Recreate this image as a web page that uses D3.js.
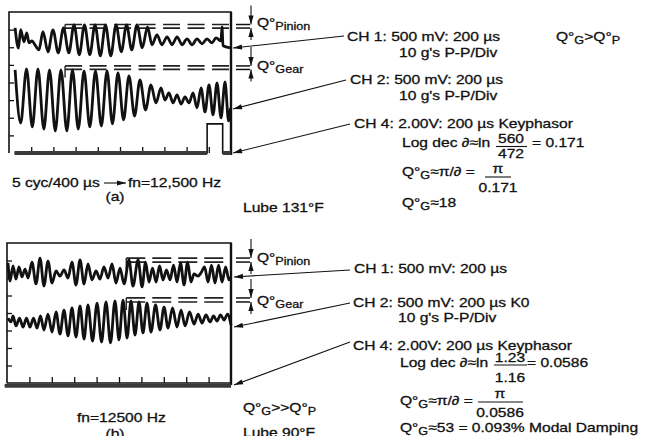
<!DOCTYPE html>
<html>
<head>
<meta charset="utf-8">
<script src="https://cdn.jsdelivr.net/npm/d3@7"></script>
<style>
  body { margin: 0; background: #fff; }
  svg text { font-family: "Liberation Sans", Arial, Helvetica, sans-serif; fill: #111; stroke: #111; stroke-width: 0.3px; }
</style>
</head>
<body>
<svg id="fig" width="651" height="436"></svg>
<script>
// Oscilloscope traces. t in µs (200 µs/div), v in screen divisions (0 = bottom).
// Only the turning points of each trace are stored; the curve is drawn through them.
const PINION_A = [
    [55, 7.1], [85, 5.95], [105, 7.0], [135, 6.31], [160, 6.82], [180, 6.25], [207, 6.36], [234, 6.14],
    [270, 5.85], [306, 6.88], [351, 5.74], [396, 6.99], [444, 5.68], [491, 7.1], [539, 5.68], [586, 7.27],
    [633, 5.57], [680, 7.27], [728, 5.57], [775, 7.27], [823, 5.51], [869, 7.27], [917, 5.51], [964, 7.27],
    [1012, 5.74], [1059, 7.27], [1106, 5.85], [1153, 7.27], [1201, 5.97], [1248, 7.16], [1288, 6.14],
    [1333, 6.7], [1378, 6.14], [1424, 6.59], [1469, 6.14], [1514, 6.59], [1559, 6.14], [1604, 6.48],
    [1649, 6.14], [1694, 6.48], [1739, 6.19], [1784, 6.48], [1829, 6.25], [1865, 6.53], [1910, 6.36],
    [1919, 7.16], [1928, 6.08], [1991, 5.97]
];
const GEAR_A = [
    [55, 4.72], [105, 1.7], [158, 4.77], [210, 1.48], [261, 4.77], [314, 1.36], [365, 4.72], [417, 1.25],
    [468, 4.72], [521, 1.25], [572, 4.72], [624, 1.36], [676, 4.66], [728, 1.48], [779, 4.66], [832, 1.53],
    [883, 4.66], [932, 1.65], [982, 4.55], [1032, 1.88], [1081, 4.38], [1131, 2.1], [1180, 4.15], [1230, 2.44],
    [1279, 3.86], [1324, 2.84], [1369, 3.69], [1405, 3.01], [1441, 3.41], [1478, 2.84], [1514, 3.3],
    [1550, 2.78], [1586, 3.18], [1622, 2.84], [1658, 3.41], [1694, 2.56], [1730, 3.69], [1766, 2.33],
    [1802, 3.86], [1838, 2.16], [1874, 3.98], [1910, 1.99], [1946, 4.03], [1978, 1.82], [1996, 2.56]
];
const KEY_A = [[50, 0], [1785, 0], [1785, 1.65], [1925, 1.65], [1925, 0], [2000, 0]];

const PINION_B = [
    [9, 6.86], [27, 5.83], [54, 6.69], [80, 5.94], [107, 6.63], [134, 6.06], [161, 6.51], [188, 6.0],
    [223, 6.91], [259, 5.66], [295, 7.14], [330, 5.54], [366, 6.97], [402, 5.71], [438, 6.4], [473, 6.11],
    [509, 6.46], [545, 6.0], [580, 6.91], [616, 5.6], [652, 7.03], [688, 5.66], [723, 6.8], [759, 5.89],
    [795, 6.4], [830, 5.94], [866, 6.63], [902, 6.0], [938, 6.8], [973, 5.71], [1009, 6.57], [1045, 5.66],
    [1089, 7.03], [1125, 5.54], [1170, 7.03], [1206, 5.49], [1237, 6.91], [1268, 5.77], [1299, 6.57],
    [1331, 5.77], [1362, 6.69], [1393, 5.89], [1424, 6.46], [1456, 5.89], [1487, 6.74], [1518, 5.77],
    [1549, 6.86], [1581, 5.6], [1612, 6.91], [1643, 5.77], [1670, 6.23], [1706, 6.11], [1732, 6.29],
    [1764, 6.63], [1795, 5.77], [1826, 6.74], [1857, 5.71], [1889, 6.74], [1920, 5.77], [1952, 6.63],
    [1982, 5.89], [2000, 6.06]
];
const GEAR_B = [
    [9, 3.71], [36, 3.49], [54, 3.83], [80, 3.26], [112, 3.71], [143, 3.2], [174, 3.71], [205, 3.2],
    [237, 3.71], [268, 3.14], [299, 3.83], [330, 3.03], [366, 3.94], [402, 2.91], [438, 4.06], [473, 2.8],
    [509, 4.17], [545, 2.69], [580, 4.29], [616, 2.63], [652, 4.4], [688, 2.51], [723, 4.46], [764, 2.4],
    [804, 4.57], [844, 2.34], [884, 4.63], [924, 2.29], [964, 4.69], [1000, 2.46], [1036, 4.74], [1072, 2.57],
    [1107, 4.69], [1143, 2.74], [1179, 4.63], [1214, 2.86], [1250, 4.57], [1286, 2.91], [1326, 4.46],
    [1366, 3.03], [1402, 4.34], [1438, 3.14], [1478, 4.29], [1518, 3.2], [1554, 4.17], [1590, 3.26],
    [1630, 4.06], [1670, 3.37], [1706, 3.94], [1741, 3.43], [1777, 3.89], [1813, 3.49], [1844, 3.83],
    [1875, 3.54], [1906, 3.89], [1938, 3.6], [1969, 3.94], [2000, 3.31]
];
const KEY_B = [[-20, -0.15], [2000, -0.15]];

// Cursor levels (divisions) and the time where the dashed cursors begin.
const CURSOR_A = { start: 505, pinion: [7.29, 7.09], gear: [4.94, 4.74] };
const CURSOR_B = { start: 1065, pinion: [7.14, 6.91], gear: [4.86, 4.63] };

const TIME_TICKS = [200, 400, 600, 800, 1000, 1200, 1400, 1600, 1800];
const DIV_TICKS = [1, 2, 3, 4, 5, 6, 7];

const SX = 1.2;   // the scan is stretched sideways
const FS = 13;
const SUB = 10.5;

const svg = d3.select('#fig');

// ---------- helpers ----------
function txt(g, x, y, parts, opts = {}) {
    const t = g.append('text')
        .attr('transform', `translate(${x},${y}) scale(${SX},1)`)
        .attr('text-anchor', opts.anchor || 'start')
        .style('font-size', (opts.size || FS) + 'px');
    let low = false;
    [].concat(parts).forEach(p => {
        const isSub = typeof p === 'object';
        const ts = t.append('tspan').text(isSub ? p.sub : p);
        if (isSub) {
            ts.style('font-size', SUB + 'px');
            if (!low) { ts.attr('dy', 3); low = true; }
        } else if (low) {
            ts.attr('dy', -3);
            low = false;
        }
    });
    return t;
}

function arrowHead(g, x1, y1, x2, y2, len = 9, half = 2.6) {
    const a = Math.atan2(y2 - y1, x2 - x1);
    const bx = x2 - len * Math.cos(a), by = y2 - len * Math.sin(a);
    const px = -Math.sin(a) * half, py = Math.cos(a) * half;
    g.append('path')
        .attr('d', `M${x2},${y2}L${bx + px},${by + py}L${bx - px},${by - py}Z`)
        .attr('fill', '#111');
}

function arrow(g, x1, y1, x2, y2) {
    g.append('line')
        .attr('x1', x1).attr('y1', y1).attr('x2', x2).attr('y2', y2)
        .attr('stroke', '#111').attr('stroke-width', 1.1);
    arrowHead(g, x1, y1, x2, y2);
}

function fraction(g, cx, yNum, yBar, yDen, x0, x1, num, den) {
    txt(g, cx, yNum, num, { anchor: 'middle' });
    g.append('line').attr('x1', x0).attr('x2', x1).attr('y1', yBar).attr('y2', yBar)
        .attr('stroke', '#111').attr('stroke-width', 1.1);
    txt(g, cx, yDen, den, { anchor: 'middle' });
}

// Q° gap marker at the right of a screen: two short bars and two opposing arrows.
function gapMarker(g, yTop, yBot) {
    [yTop, yBot].forEach(y => g.append('line')
        .attr('x1', 236).attr('x2', 250).attr('y1', y).attr('y2', y)
        .attr('stroke', '#111').attr('stroke-width', 1.5));
    arrow(g, 251, yTop - 19, 251, yTop);
    arrow(g, 251, yBot + 12, 251, yBot);
}

// ---------- one scope screen ----------
function drawScreen(cfg) {
    const g = svg.append('g');
    const x = d3.scaleLinear().domain([0, 2000]).range(cfg.xRange);
    const y = d3.scaleLinear().domain([0, 8]).range(cfg.yRange);

    // graticule ticks along the left and bottom edges
    g.append('g')
        .attr('transform', `translate(${cfg.xRange[0]},0)`)
        .call(d3.axisLeft(y).tickValues(DIV_TICKS).tickSize(-5).tickFormat(''))
        .call(a => a.select('.domain').remove())
        .selectAll('line').attr('stroke', '#111').attr('stroke-width', 1.3);
    g.append('g')
        .attr('transform', `translate(0,${cfg.yRange[0]})`)
        .call(d3.axisBottom(x).tickValues(TIME_TICKS).tickSize(-6).tickFormat(''))
        .call(a => a.select('.domain').remove())
        .selectAll('line').attr('stroke', '#111').attr('stroke-width', 1.3);

    // frame
    const [l, r] = cfg.xRange, [b, t] = cfg.yRange;
    g.append('path').attr('d', `M${l},${b}V${t}H${r}V${b + 2}`)
        .attr('fill', 'none').attr('stroke', '#111').attr('stroke-width', 1.6);
    g.append('line').attr('x1', r).attr('x2', r).attr('y1', t).attr('y2', b + 2)
        .attr('stroke', '#111').attr('stroke-width', 2.4);
    if (cfg.bottomEdge) {
        g.append('line').attr('x1', l).attr('x2', r).attr('y1', b).attr('y2', b)
            .attr('stroke', '#111').attr('stroke-width', 1.4);
    }

    // cursors
    const cx0 = x(cfg.cursor.start);
    [cfg.cursor.pinion, cfg.cursor.gear].forEach(levels => {
        levels.forEach(v => g.append('line')
            .attr('x1', cx0).attr('x2', r - 2).attr('y1', y(v)).attr('y2', y(v))
            .attr('stroke', '#222').attr('stroke-width', 1.7)
            .attr('stroke-dasharray', cfg.dash));
        g.append('line').attr('x1', cx0).attr('x2', cx0)
            .attr('y1', y(levels[0])).attr('y2', y(levels[1]) + 8)
            .attr('stroke', '#222').attr('stroke-width', 1.4);
        gapMarker(g, y(levels[0]), y(levels[1]));
    });

    const line = d3.line().x(d => x(d[0])).y(d => y(d[1])).curve(d3.curveMonotoneX);
    [cfg.pinion, cfg.gear].forEach(data => g.append('path')
        .attr('d', line(data))
        .attr('fill', 'none').attr('stroke', '#111')
        .attr('stroke-width', 2.8).attr('stroke-linejoin', 'round'));

    // keyphasor: thin pulse, heavy baseline
    const step = d3.line().x(d => x(d[0])).y(d => y(d[1]));
    g.append('path').attr('d', step(cfg.key))
        .attr('fill', 'none').attr('stroke', '#111').attr('stroke-width', 1.6);
    const base = d3.min(cfg.key, d => d[1]);
    const runs = [];
    cfg.key.forEach((d, i) => {
        if (d[1] === base && i > 0 && cfg.key[i - 1][1] === base) runs.push([cfg.key[i - 1], d]);
    });
    runs.forEach(run => g.append('path').attr('d', step(run))
        .attr('fill', 'none').attr('stroke', '#3a3a3a').attr('stroke-width', 4));

    return { g, x, y };
}

// ---------- panel (a) ----------
const A = drawScreen({
    xRange: [9, 231], yRange: [153, 12],
    pinion: PINION_A, gear: GEAR_A, key: KEY_A, cursor: CURSOR_A,
    dash: '17,7.5', bottomEdge: false
});
const ga = A.g;
txt(ga, 257, 27, ['Q°', { sub: 'Pinion' }]);
txt(ga, 257, 70, ['Q°', { sub: 'Gear' }]);
txt(ga, 347, 41, 'CH 1: 500 mV: 200 µs');
txt(ga, 399, 57, "10 g's P-P/Div");
txt(ga, 556, 41, ['Q°', { sub: 'G' }, '>Q°', { sub: 'P' }]);
txt(ga, 350, 84, 'CH 2: 500 mV: 200 µs');
txt(ga, 399, 100, "10 g's P-P/Div");
txt(ga, 354, 128, 'CH 4: 2.00V: 200 µs Keyphasor');
txt(ga, 402, 147, 'Log dec ∂≈ln');
fraction(ga, 511, 143, 146.5, 158, 496, 527, '560', '472');
txt(ga, 532, 147, '= 0.171');
txt(ga, 402, 176, ['Q°', { sub: 'G' }, '≈π/∂ =']);
fraction(ga, 498, 173, 177, 192, 485, 511, 'π', '0.171');
txt(ga, 402, 207, ['Q°', { sub: 'G' }, '≈18']);
txt(ga, 243, 212, 'Lube 131°F');
txt(ga, 12, 187, '5 cyc/400 µs');
arrow(ga, 104, 183, 126, 183);
txt(ga, 128, 187, 'fn=12,500 Hz');
txt(ga, 115, 201, '(a)', { anchor: 'middle' });
arrow(ga, 344, 36, 233, 48);
arrow(ga, 346, 80, 233, 109);
arrow(ga, 350, 124, 233, 153);

// ---------- panel (b) ----------
const B = drawScreen({
    xRange: [7, 231], yRange: [383, 243],
    pinion: PINION_B, gear: GEAR_B, key: KEY_B, cursor: CURSOR_B,
    dash: '19,7', bottomEdge: true
});
const gb = B.g;
txt(gb, 257, 262, ['Q°', { sub: 'Pinion' }]);
txt(gb, 257, 305, ['Q°', { sub: 'Gear' }]);
txt(gb, 354, 273, 'CH 1: 500 mV: 200 µs');
txt(gb, 353, 307, 'CH 2: 500 mV: 200 µs K0');
txt(gb, 398, 322, "10 g's P-P/Div");
txt(gb, 353, 350, 'CH 4: 2.00V: 200 µs Keyphasor');
txt(gb, 400, 367, 'Log dec ∂≈ln');
fraction(gb, 510, 362, 365, 382, 494, 527, '1.23', '1.16');
txt(gb, 527, 367, '= 0.0586');
txt(gb, 400, 405, ['Q°', { sub: 'G' }, '≈π/∂ =']);
fraction(gb, 500, 398, 402, 417, 478, 523, 'π', '0.0586');
txt(gb, 400, 432, ['Q°', { sub: 'G' }, '≈53 = 0.093% Modal Damping']);
txt(gb, 243, 412, ['Q°', { sub: 'G' }, '>>Q°', { sub: 'P' }]);
txt(gb, 243, 437, 'Lube 90°F');
txt(gb, 77, 422, 'fn=12500 Hz');
txt(gb, 115, 438, '(b)', { anchor: 'middle' });
arrow(gb, 350, 270, 234, 277);
arrow(gb, 350, 303, 234, 327);
arrow(gb, 350, 342, 234, 385);
</script>
</body>
</html>
